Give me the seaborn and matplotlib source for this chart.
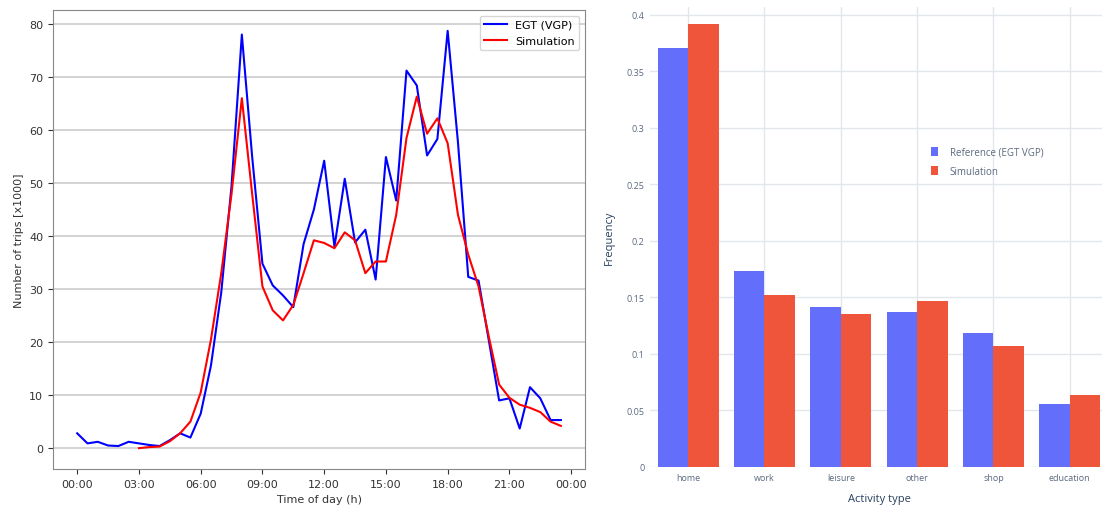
import numpy as np
import pandas as pd
import seaborn as sns
import matplotlib.pyplot as plt
from matplotlib.ticker import FuncFormatter

# Trips per half hour (x1000), 00:00 .. 23:30
hours = [i * 0.5 for i in range(48)]
egt_trips = [2.8, 0.9, 1.2, 0.5, 0.4, 1.2, 0.9, 0.6, 0.4, 1.5, 2.8, 2.0,
             6.5, 15.6, 29.4, 49.5, 78.0, 55.0, 34.8, 30.7, 28.8, 26.6, 38.5, 45.0,
             54.2, 38.0, 50.8, 38.8, 41.2, 31.8, 54.9, 46.7, 71.2, 68.4, 55.2, 58.3,
             78.7, 57.7, 32.3, 31.6, 20.3, 9.0, 9.4, 3.7, 11.5, 9.4, 5.3, 5.3]
sim_trips = [np.nan] * 6 + [0.0, 0.2, 0.3, 1.3, 2.8, 5.0,
             10.5, 20.5, 33.0, 48.0, 66.0, 48.0, 30.5, 26.0, 24.1, 27.0, 33.0, 39.2,
             38.7, 37.7, 40.7, 39.2, 33.0, 35.2, 35.2, 44.0, 58.5, 66.3, 59.3, 62.2,
             57.5, 44.0, 36.5, 30.5, 21.0, 12.0, 9.5, 8.2, 7.6, 6.8, 5.0, 4.2]

# Activity type frequencies
activities = ['home', 'work', 'leisure', 'other', 'shop', 'education']
ref_freq = [0.371, 0.173, 0.142, 0.137, 0.119, 0.056]
sim_freq = [0.392, 0.152, 0.135, 0.147, 0.107, 0.0635]

trips = pd.concat([
    pd.DataFrame({'hour': hours, 'trips': egt_trips, 'source': 'EGT (VGP)'}),
    pd.DataFrame({'hour': hours, 'trips': sim_trips, 'source': 'Simulation'}).dropna(),
])
freqs = pd.concat([
    pd.DataFrame({'activity': activities, 'freq': ref_freq, 'source': 'Reference (EGT VGP)'}),
    pd.DataFrame({'activity': activities, 'freq': sim_freq, 'source': 'Simulation'}),
])

fig = plt.figure(figsize=(11.02, 5.06), dpi=100)

# Left: trips by time of day
ax1 = fig.add_axes([0.0481, 0.0711, 0.4828, 0.9072])
sns.lineplot(data=trips, x='hour', y='trips', hue='source', estimator=None,
             palette={'EGT (VGP)': 'blue', 'Simulation': 'red'}, linewidth=1.5, ax=ax1)
ax1.set_xticks(range(0, 25, 3))
ax1.xaxis.set_major_formatter(FuncFormatter(lambda v, p: f"{int(v) % 24:02d}:00"))
ax1.grid(axis='y', color='#cccccc', linewidth=1.2)
ax1.set_axisbelow(True)
ax1.tick_params(labelsize=8, colors='#333333')
for s in ax1.spines.values():
    s.set_color('#888888')
ax1.set_xlabel('Time of day (h)', fontsize=8, color='#333333')
ax1.set_ylabel('Number of trips [x1000]', fontsize=8, color='#333333')
ax1.legend(title=None, loc='upper right', fontsize=8, framealpha=0.8)

# Right: activity type frequencies (plotly-like look)
ax2 = fig.add_axes([0.5898, 0.0751, 0.4156, 0.9091])
sns.barplot(data=freqs, x='activity', y='freq', hue='source', width=0.8, saturation=1,
            palette=['#636EFA', '#EF553B'], ax=ax2)
ax2.set_ylim(0, 0.407)
yt = [0, 0.05, 0.1, 0.15, 0.2, 0.25, 0.3, 0.35, 0.4]
ax2.set_yticks(yt)
ax2.set_yticklabels(['0', '0.05', '0.1', '0.15', '0.2', '0.25', '0.3', '0.35', '0.4'])
ax2.grid(True, color='#e3e6eb', linewidth=1)
ax2.set_axisbelow(True)
for s in ax2.spines.values():
    s.set_visible(False)
ax2.tick_params(length=0, labelsize=6.5, colors='#5a6a80', pad=4)
for t in ax2.get_xticklabels() + ax2.get_yticklabels():
    t.set_family('Open Sans')
ax2.set_xlabel('Activity type', fontsize=8, color='#2a3f5f', family='Open Sans', labelpad=8)
ax2.set_ylabel('Frequency', fontsize=8, color='#2a3f5f', family='Open Sans', labelpad=8)
ax2.legend(title=None, loc='upper left', bbox_to_anchor=(0.595, 0.715), frameon=False,
           handlelength=0.7, handleheight=1.0, handletextpad=1.2, labelspacing=0.85,
           prop={'family': 'Open Sans', 'size': 7}, labelcolor='#5a6a80')

fig.savefig('out.png', dpi=100)
